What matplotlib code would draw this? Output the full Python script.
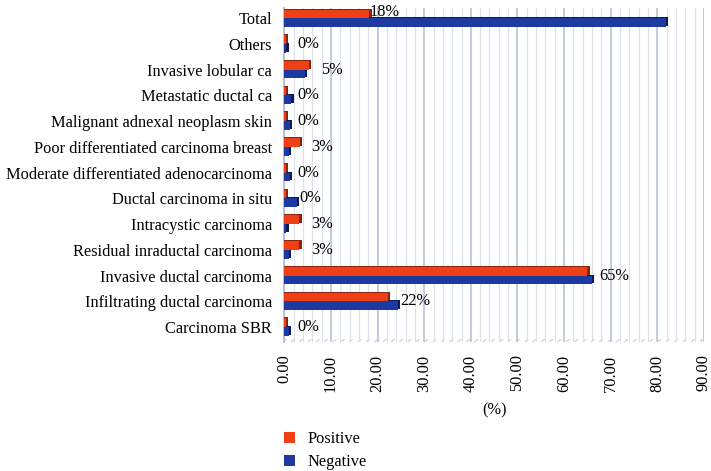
import numpy as np
import matplotlib as mpl
mpl.use('Agg')
import matplotlib.pyplot as plt
from matplotlib.patches import Patch

categories = ['Carcinoma SBR', 'Infiltrating ductal carcinoma', 'Invasive ductal carcinoma',
              'Residual inraductal carcinoma', 'Intracystic carcinoma', 'Ductal carcinoma in situ',
              'Moderate differentiated adenocarcinoma', 'Poor differentiated carcinoma breast',
              'Malignant adnexal neoplasm skin', 'Metastatic ductal ca', 'Invasive lobular ca',
              'Others', 'Total']
positive = [0.3, 22.2, 65.0, 3.2, 3.2, 0.3, 0.3, 3.3, 0.3, 0.3, 5.3, 0.3, 18.2]
negative = [1.0, 24.3, 66.0, 1.0, 0.4, 2.6, 1.2, 1.0, 1.1, 1.5, 4.4, 0.4, 81.8]

plt.rcParams['font.family'] = ['Liberation Serif', 'DejaVu Serif']
plt.rcParams['font.size'] = 11.8

pos_col = '#ee4014'
pos_side = '#8a2410'
neg_col = '#1c3aa0'
neg_side = '#0c1a5c'

fig = plt.figure(figsize=(7.11, 4.71), dpi=100)
ax = fig.add_axes([0.4, 0.274, 0.59, 0.709])

y = np.arange(len(categories))
h = 0.34
pos_arr = np.array(positive)
neg_arr = np.array(negative)

# fake 3d: darker block behind, front face on top
ax.barh(y + h / 2 + 0.04, pos_arr + 0.5, height=h, color=pos_side, zorder=3)
ax.barh(y + h / 2, pos_arr, height=h, color=pos_col, zorder=4)
ax.barh(y - h / 2 + 0.04, neg_arr + 0.5, height=h, color=neg_side, zorder=3)
ax.barh(y - h / 2, neg_arr, height=h, color=neg_col, zorder=4)

# labels of positive series
for i in range(len(categories)):
    p = positive[i]
    n = negative[i]
    txt = '%d%%' % round(p)
    if n > p and n - p < 5:
        ax.text(max(n + 0.6, p + 2.5), y[i], txt, va='center', ha='left', zorder=5)
    elif n > p:
        ax.text(p, y[i] + h / 2 + 0.08, txt, va='center', ha='left', zorder=5)
    else:
        ax.text(p + 2.5, y[i], txt, va='center', ha='left', zorder=5)

ax.set_xlim(0, 90)
ax.set_ylim(-0.58, 12.4)
ax.set_yticks(y)
ax.set_yticklabels(categories)
ax.set_xticks(np.arange(0, 91, 10))
ax.set_xticklabels(['%.2f' % v for v in np.arange(0, 91, 10)], rotation=90)
ax.set_xticks(np.arange(0, 91, 2), minor=True)
ax.tick_params(axis='both', length=0, which='both')
ax.tick_params(axis='x', pad=9)
ax.tick_params(axis='y', pad=9)
ax.grid(axis='x', which='major', color='#b8c2d4', lw=1.2, zorder=0)
ax.grid(axis='x', which='minor', color='#dde2ea', lw=0.9, zorder=0)
for s in ['top', 'right', 'bottom']:
    ax.spines[s].set_visible(False)
ax.spines['left'].set_color('#b8c2d4')
ax.spines['left'].set_linewidth(1.5)

# floor strip
ax.axhspan(-0.58, -0.45, facecolor='white', edgecolor='#d0d6e0', hatch='////', lw=0, zorder=1)

ax.set_xlabel('(%)', labelpad=8)

handles = [Patch(facecolor=pos_col, label='Positive'), Patch(facecolor=neg_col, label='Negative')]
fig.legend(handles=handles, loc='lower left', bbox_to_anchor=(0.378, -0.03), frameon=False,
           handlelength=0.7, handleheight=0.7, labelspacing=0.45, handletextpad=0.75)

fig.savefig('out.png', dpi=100)
